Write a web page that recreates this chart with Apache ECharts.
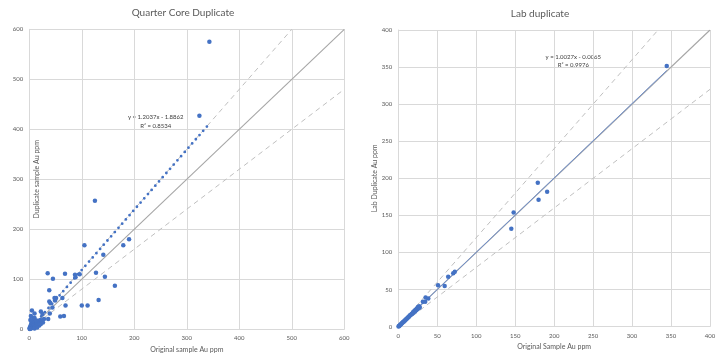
<!DOCTYPE html>
<html><head><meta charset="utf-8">
<script src="https://cdn.jsdelivr.net/npm/echarts@6/dist/echarts.min.js"></script>
<style>html,body{margin:0;padding:0;background:#fff}#c{width:720px;height:358px}</style>
</head><body><div id="c"></div>
<script>
// ---- Quarter Core Duplicate ----
const qcOriginal  = [343,324,125,105,179,190,141,35,45,68,87,88,96,127,144,163,38,38,40,48,51,49,63,44,39,36,59,66,69,100,111,132,22,25,5,10,8,
  0.5,1,1.5,2,2.5,3,3,4,4,5,5,6,6,7,7,8,8,9,9,10,10,11,12,12,13,14,14,15,16,17,18,19,20,21,22,24,26,28,3,2,1,10,15];
const qcDuplicate = [575,427,257,168,168,180,149,112,101,111,109,104,110,113,105,87,78,55,52,62,62,57,62,43,31,20,25,26,47,47,47,58,35,30,37,31,22,
  1,3,0.5,5,2,8,1,4,12,6,2,9,15,3,11,7,18,5,13,9,22,4,14,8,11,6,17,12,9,15,11,7,14,18,10,16,13,20,26,18,0,1,3];
const qcTrend = {slope: 1.2037, intercept: -1.8862, r2: '0.8534'};
// ---- Lab duplicate ----
const labOriginal  = [344.5,179,191,180,148,145,51,59.5,64,70.5,72.5,35,38.5,31.5,34.5,
  0.3,0.8,1.5,2.2,3,3.8,4.5,5.3,6,7,7.8,8.6,9.5,10.4,11.3,12.2,13.1,14,15,16,17,18,18.8,19.5,20.5,21.5,22,23,23.8,24.5,25.3,26,26.8,27.5];
const labDuplicate = [351.5,194,182,171,154,132,56,55,67.5,72,74,39.5,38,33.5,33.5,
  0.3,0.9,1.4,2.3,3.1,3.6,4.6,5.2,6.2,6.8,8,8.5,9.7,10.2,11.5,12,13.4,13.8,15.3,15.8,17.2,17.6,19.5,18.8,21,20.6,22.8,22.2,24.5,23.4,26.5,25,27.5,25.8];
const labTrend = {slope: 1.0027, intercept: -0.0065, r2: '0.9976'};
// tolerance lines (1:1 and ±20%)
const ratios = [1, 1.2, 0.8];

const BLUE = '#4472C4', FONT = 'Lato';
function pts(xs, ys){ return xs.map((x,i)=>[x, ys[i]]); }
function refLine(r, max){ return r >= 1 ? [[0,0],[max/r, max]] : [[0,0],[max, max*r]]; }
function trend(t, xs){ const m = Math.max(...xs); const x0 = Math.max(0, -t.intercept/t.slope); return [[x0, t.slope*x0+t.intercept],[m, t.slope*m+t.intercept]]; }
function fmtTrend(t){ return 'y = ' + t.slope.toFixed(4) + 'x - ' + Math.abs(t.intercept).toFixed(4); }

const axisCommon = {
  type: 'value',
  axisLine: {show: true, lineStyle: {color: '#D9D9D9'}},
  axisTick: {show: false},
  splitLine: {lineStyle: {color: '#D9D9D9', width: 1}},
  axisLabel: {fontSize: 6, color: '#595959', fontFamily: FONT, margin: 6},
  nameLocation: 'middle',
  nameTextStyle: {fontSize: 7, color: '#595959', fontFamily: FONT}
};

const chart = echarts.init(document.getElementById('c'));
const refStyles = [
  {color: '#A6A6A6', width: 1.1, type: 'solid'},
  {color: '#BFBFBF', width: 1, type: [5, 4]},
  {color: '#BFBFBF', width: 1, type: [5, 4]}
];
const series = [];
ratios.forEach((r,i)=>{
  series.push({type:'line', xAxisIndex:0, yAxisIndex:0, data: refLine(r, 600), showSymbol:false, lineStyle: refStyles[i], silent:true, z:1});
  series.push({type:'line', xAxisIndex:1, yAxisIndex:1, data: refLine(r, 400), showSymbol:false, lineStyle: refStyles[i], silent:true, z:1});
});
series.push({type:'line', xAxisIndex:0, yAxisIndex:0, data: trend(qcTrend, qcOriginal), showSymbol:false,
  lineStyle:{color: BLUE, width: 2.8, type: [0, 5.6], cap: 'round'}, z:2});
series.push({type:'line', xAxisIndex:1, yAxisIndex:1, data: trend(labTrend, labOriginal), showSymbol:false,
  lineStyle:{color: '#6F8FCC', width: 1}, z:2});
series.push({type:'scatter', xAxisIndex:0, yAxisIndex:0, data: pts(qcOriginal, qcDuplicate), symbolSize: 4.5, itemStyle:{color: BLUE, opacity:1}, z:3});
series.push({type:'scatter', xAxisIndex:1, yAxisIndex:1, data: pts(labOriginal, labDuplicate), symbolSize: 4.5, itemStyle:{color: BLUE, opacity:1}, z:3});

const txt = (x, y, text, size, color) => ({type:'text', x, y, silent:true,
  style:{text, fontSize:size, fill:color, fontFamily:FONT, align:'center', verticalAlign:'middle'}});

chart.setOption({
  animation: false,
  backgroundColor: '#fff',
  grid: [
    {left: 29.3, right: 375.7, top: 29.3, bottom: 28.7},
    {left: 398.3, right: 10, top: 30, bottom: 31.3}
  ],
  xAxis: [
    Object.assign({}, axisCommon, {gridIndex:0, min:0, max:600, interval:100, name:'Original sample Au ppm', nameGap: 11}),
    Object.assign({}, axisCommon, {gridIndex:1, min:0, max:400, interval:50, name:'Original Sample Au ppm', nameGap: 17})
  ],
  yAxis: [
    Object.assign({}, axisCommon, {gridIndex:0, min:0, max:600, interval:100, name:'Duplicate sample Au ppm', nameGap: -11}),
    Object.assign({}, axisCommon, {gridIndex:1, min:0, max:400, interval:50, name:'Lab Duplicate Au ppm', nameGap: 20})
  ],
  series,
  graphic: [
    txt(183, 13, 'Quarter Core Duplicate', 10, '#595959'),
    txt(540, 13.5, 'Lab duplicate', 10, '#595959'),
    txt(155.7, 117, fmtTrend(qcTrend), 6, '#404040'),
    txt(155.7, 126, 'R\u00B2 = ' + qcTrend.r2, 6, '#404040'),
    txt(573.3, 56.7, fmtTrend(labTrend), 6, '#404040'),
    txt(573.3, 65, 'R\u00B2 = ' + labTrend.r2, 6, '#404040')
  ]
});
</script></body></html>
